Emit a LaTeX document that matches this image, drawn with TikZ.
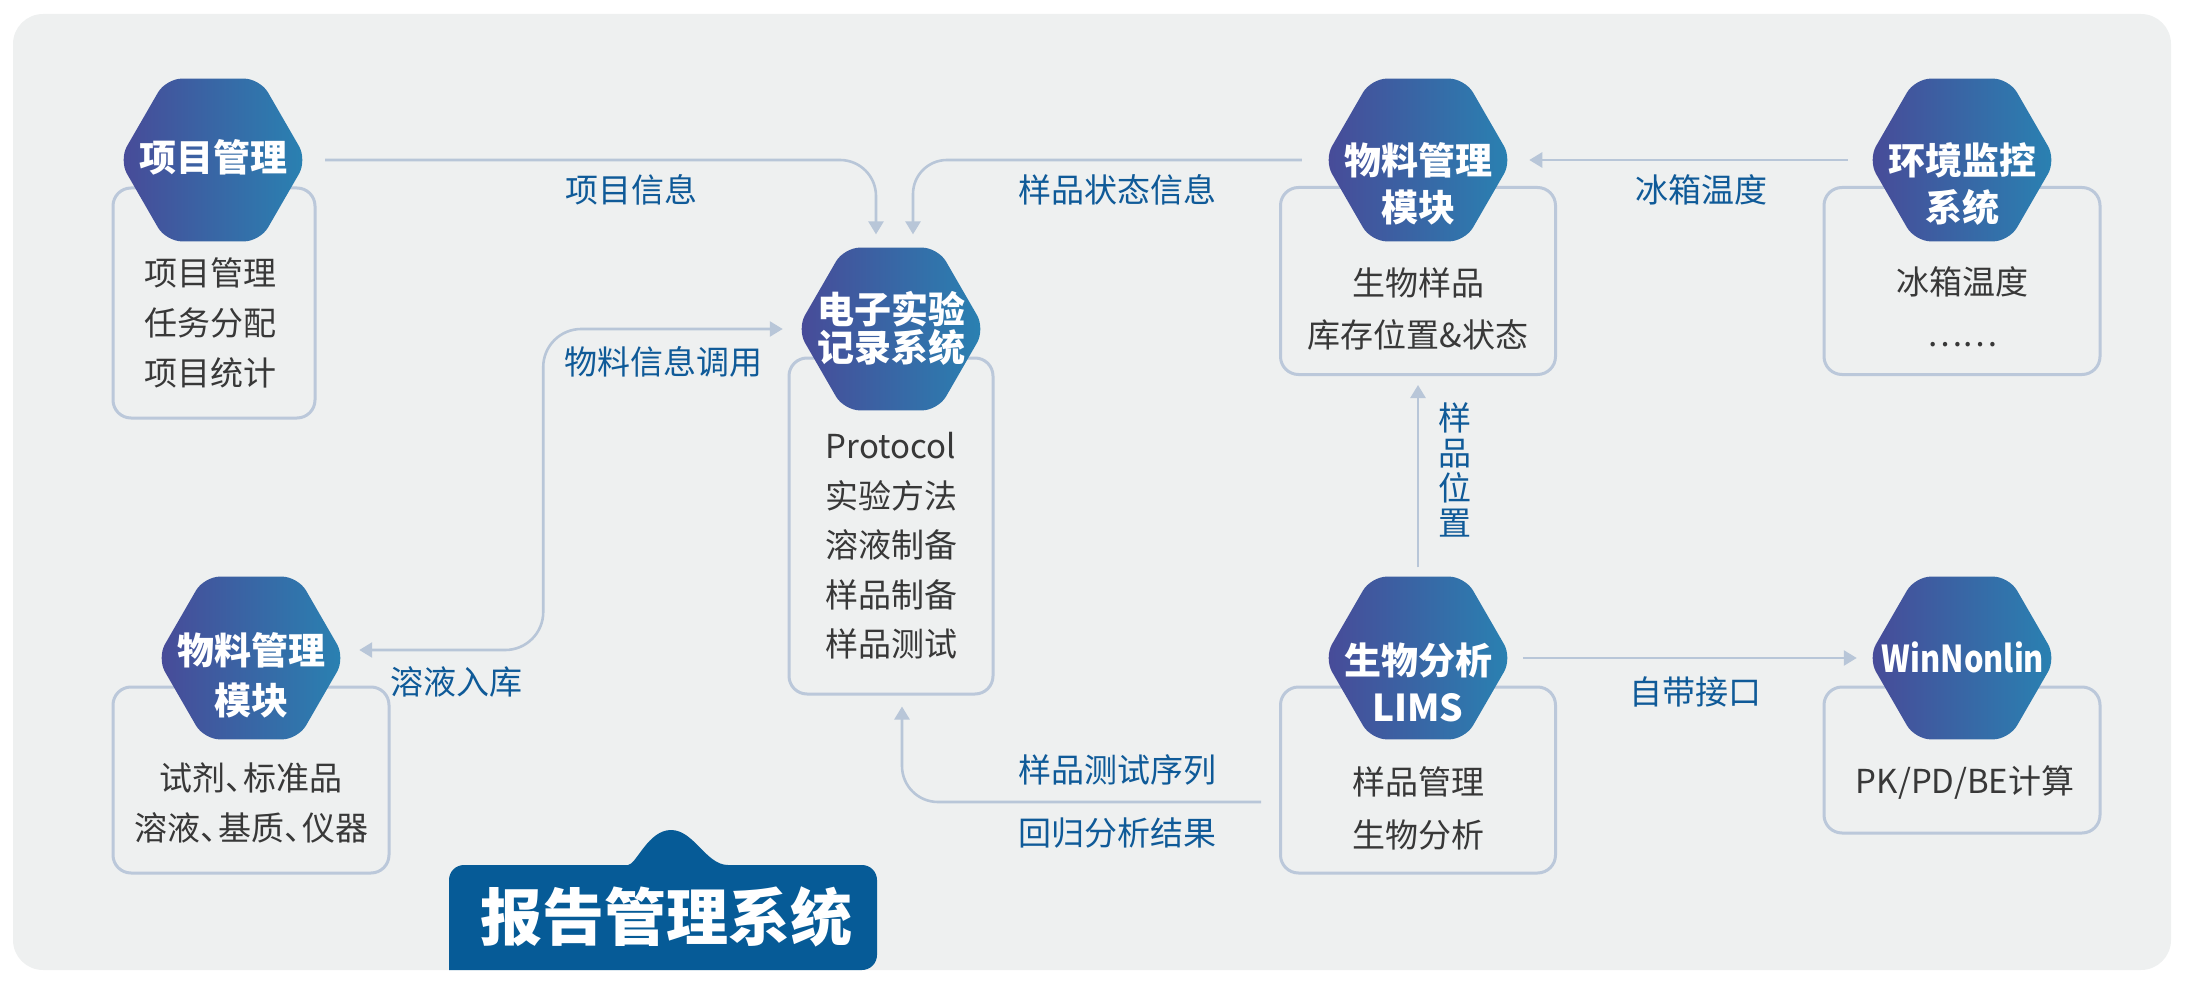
\documentclass[tikz,border=0pt]{standalone}
\usepackage{fontspec}
\setmainfont{Noto Sans CJK SC}
\usepackage{tikz}
\usetikzlibrary{arrows.meta,shapes.geometric}
\definecolor{panelbg}{HTML}{EEF0F0}
\definecolor{hexleft}{HTML}{484A98}
\definecolor{hexright}{HTML}{2982B2}
\definecolor{boxline}{HTML}{BBC8DA}
\definecolor{linkline}{HTML}{B8C6D8}
\definecolor{lbltext}{HTML}{0F5A98}
\definecolor{bodytext}{HTML}{383838}
\definecolor{bannerbg}{HTML}{065B97}
\newcommand{\dunhao}{、\kern-15pt}
\tikzset{
  hexa/.style={regular polygon,regular polygon sides=6,minimum size=188pt,inner sep=0pt,
    rounded corners=16pt,left color=hexleft,right color=hexright,draw=none},
  hextitle/.style={text=white,font=\fontsize{37}{47}\selectfont\bfseries,align=center,inner sep=0pt},
  infobox/.style={draw=boxline,line width=3pt,rounded corners=18pt,inner sep=0pt},
  infotext/.style={text=bodytext,font=\fontsize{33}{50}\selectfont,align=center,inner sep=0pt},
  conn/.style={draw=linkline,line width=2.6pt,-{Triangle[length=13pt,width=15pt]}},
  lbl/.style={text=lbltext,font=\fontsize{33}{36}\selectfont,inner sep=0pt},
  bannertext/.style={text=white,font=\fontsize{62}{70}\selectfont\bfseries,inner sep=0pt}
}

\begin{document}
\begin{tikzpicture}[x=1pt,y=-1pt]
  \useasboundingbox (0,0) rectangle (2201,987);
  \fill[panelbg,rounded corners=30pt] (13,14) rectangle (2171,970);

  \node[infobox,minimum width=202pt,minimum height=230pt] (xmbox) at (214,303) {};
  \node[infobox,minimum width=204pt,minimum height=336pt] (sybox) at (891,526) {};
  \node[infobox,minimum width=275pt,minimum height=187pt] (wlabox) at (1418,281) {};
  \node[infobox,minimum width=276pt,minimum height=187pt] (hjbox) at (1962,281) {};
  \node[infobox,minimum width=276pt,minimum height=186pt] (wlbbox) at (251,780) {};
  \node[infobox,minimum width=275pt,minimum height=186pt] (limsbox) at (1418,780) {};
  \node[infobox,minimum width=276pt,minimum height=146pt] (wnbox) at (1962,760) {};

  \node[infotext] (xmtxt) at (210,323) {项目管理\\任务分配\\项目统计};
  \node[infotext,font=\fontsize{33}{49.5}\selectfont] (sytxt) at (891,546) {Protocol\\实验方法\\溶液制备\\样品制备\\样品测试};
  \node[infotext,font=\fontsize{33}{52}\selectfont] (wlatxt) at (1418,309) {生物样品\\库存位置\&状态};
  \node[infotext,font=\fontsize{33}{52}\selectfont] (hjtxt) at (1962,307) {冰箱温度\\……};
  \node[infotext] (wlbtxt) at (251,803) {试剂\dunhao 标准品\\溶液\dunhao 基质\dunhao 仪器};
  \node[infotext,font=\fontsize{33}{53}\selectfont] (limstxt) at (1418,808) {样品管理\\生物分析};
  \node[infotext] (wntxt) at (1965,783) {PK/PD/BE计算};

  \node[hexa] (xm) at (213,160) {};
  \node[hexa] (sy) at (891,329) {};
  \node[hexa] (wla) at (1418,160) {};
  \node[hexa] (hj) at (1962,160) {};
  \node[hexa] (wlb) at (251,658) {};
  \node[hexa] (lims) at (1418,658) {};
  \node[hexa] (wn) at (1962,658) {};

  \node[hextitle] (xmt) at (213,157) {项目管理};
  \node[hextitle,font=\fontsize{37}{38}\selectfont\bfseries] (syt) at (891,328) {电子实验\\记录系统};
  \node[hextitle] (wlat) at (1418,184) {物料管理\\模块};
  \node[hextitle] (hjt) at (1962,184) {环境监控\\系统};
  \node[hextitle,font=\fontsize{37}{50}\selectfont\bfseries] (wlbt) at (251,675) {物料管理\\模块};
  \node[hextitle] (limst) at (1418,682) {生物分析\\LIMS};
  \node[hextitle] (wnt) at (1963,657) {\scalebox{0.83}[1]{WinNonlin}};

  \draw[conn,shorten <=18pt,shorten >=13pt,rounded corners=36pt] (xm.east) -| ([xshift=-15pt]sy.north);
  \draw[conn,shorten <=22pt,shorten >=13pt,rounded corners=34pt] (wla.west) -| ([xshift=22pt]sy.north);
  \draw[conn,shorten <=20pt,shorten >=17pt] (hj.west) -- (wla.east);
  \draw[conn,shorten <=11pt,shorten >=11pt] (lims.east) -- (wn.west);
  \draw[conn,shorten <=9pt,shorten >=9pt] (lims.north) -- (wlabox.south);
  \draw[conn,{Triangle[length=13pt,width=15pt]}-{Triangle[length=13pt,width=15pt]},shorten <=14pt,shorten >=14pt,rounded corners=38pt] ([yshift=8pt]wlb.east) -- ++(198,0) |- (sy.west);
  \draw[conn,shorten <=18pt,shorten >=11pt,rounded corners=36pt] ([yshift=-22pt]limsbox.west) -| ([xshift=11pt]sybox.south);

  \node[lbl] (xmxx) at (631,190) {项目信息};
  \node[lbl] (ypzt) at (1117,190) {样品状态信息};
  \node[lbl] (bxwd) at (1701,190) {冰箱温度};
  \node[lbl] (wlxx) at (663,362) {物料信息调用};
  \node[lbl] (ryrk) at (456,682) {溶液入库};
  \node[lbl,align=center,font=\fontsize{33}{35}\selectfont] (ypwz) at (1455,470) {样\\品\\位\\置};
  \node[lbl] (zdjk) at (1695,692) {自带接口};
  \node[lbl] (csxl) at (1117,770) {样品测试序列};
  \node[lbl] (hgfx) at (1117,833) {回归分析结果};

  \fill[bannerbg] (449,970) [rounded corners=15pt] -- (449,865) -- (613,865) [sharp corners]
    .. controls (636,865) and (648,830) .. (671,830) .. controls (694,830) and (706,865) .. (728,865)
    [rounded corners=15pt] -- (877,865) -- (877,970) [sharp corners] -- cycle;
  \node[bannertext] (bgxt) at (666,917) {报告管理系统};
\end{tikzpicture}
\end{document}
